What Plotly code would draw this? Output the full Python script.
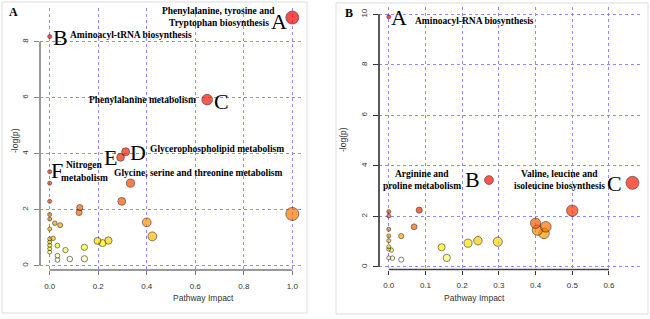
import colorsys
import numpy as np
import plotly.graph_objects as go

# ---------------- data ----------------
a_impact = [1.0, 0.0, 0.649, 0.313, 0.292, 0.0, 0.0, 0.0, 0.124, 0.121, 0.333, 0.297,
            0.0, 0.0, 0.021, 0.043, 0.0, 0.40, 0.423, 1.0, 0.014, 0.0, 0.0, 0.0, 0.0, 0.0,
            0.032, 0.065, 0.032, 0.032, 0.083, 0.143, 0.143, 0.197, 0.218, 0.242]
a_logp = [8.86, 8.18, 5.93, 4.07, 3.87, 3.36, 2.95, 2.30, 2.08, 1.90, 2.95, 2.30,
          1.83, 1.67, 1.52, 1.45, 1.31, 1.55, 1.05, 1.85, 0.98, 0.96, 0.85, 0.73, 0.61, 0.49,
          0.72, 0.56, 0.36, 0.21, 0.24, 0.66, 0.25, 0.89, 0.81, 0.90]

b_impact = [0.0, 0.273, 0.664, 0.5, 0.083, 0.0, 0.0, 0.069, 0.0, 0.034, 0.0, 0.0,
            0.40, 0.428, 0.405, 0.423, 0.243, 0.216, 0.297, 0.144, 0.158, 0.0, 0.007,
            0.0, 0.0, 0.01, 0.034]
b_logp = [9.9, 3.44, 3.33, 2.23, 2.25, 2.19, 2.02, 1.59, 1.49, 1.22, 1.23, 1.04,
          1.73, 1.59, 1.46, 1.33, 1.04, 0.94, 1.0, 0.78, 0.36, 0.80, 0.67,
          0.71, 0.36, 0.35, 0.29]

a_xticks = [0.0, 0.2, 0.4, 0.6, 0.8, 1.0]
a_yticks = [0, 2, 4, 6, 8]
b_xticks = [0.0, 0.1, 0.2, 0.3, 0.4, 0.5, 0.6]
b_yticks = [0, 2, 4, 6, 8, 10]

# labels: (text, px_x, px_y, xanchor, kind)
a_labels = [
    ("Phenylalanine, tyrosine and", 277, 11, "right", "t"),
    ("Tryptophan biosynthesis", 271, 23, "right", "t"),
    ("A", 279, 21, "center", "L"),
    ("B", 60, 37, "center", "L"),
    ("Aminoacyl-tRNA biosynthesis", 68, 35, "left", "t"),
    ("Phenylalanine metabolism", 198, 100, "right", "t"),
    ("C", 221, 101, "center", "L"),
    ("D", 138, 152, "center", "L"),
    ("Glycerophospholipid metabolism", 148, 149, "left", "t"),
    ("E", 110, 158, "center", "L"),
    ("Glycine, serine and threonine metabolism", 112, 173, "left", "t"),
    ("F", 57, 170, "center", "L"),
    ("Nitrogen", 64, 165, "left", "t"),
    ("metabolism", 59, 178, "left", "t"),
]
b_labels = [
    ("A", 399, 18, "center", "L"),
    ("Aminoacyl-RNA biosynthesis", 413, 21, "left", "t"),
    ("Arginine and", 422, 174, "center", "t"),
    ("proline metabolism", 422, 186, "center", "t"),
    ("B", 473, 179, "center", "L"),
    ("Valine, leucine and", 559, 174, "center", "t"),
    ("isoleucine biosynthesis", 559, 186, "center", "t"),
    ("C", 614, 183, "center", "L"),
]

W, H = 650, 319


def px(x):
    return x / W


def py(y):
    return 1 - y / H


def heat_colors(n):
    j = n // 4
    i = n - j
    cols = []
    for k in range(i):
        h = (1 / 6) * k / (i - 1) if i > 1 else 0
        cols.append(colorsys.hsv_to_rgb(h, 1, 1))
    if j > 0:
        for s in np.linspace(1 - 1 / (2 * j), 1 / (2 * j), j):
            cols.append(colorsys.hsv_to_rgb(1 / 6, s, 1))
    return ["rgb(%d,%d,%d)" % (round(r * 255), round(g * 255), round(b * 255)) for r, g, b in cols]


def point_style(impact, logp):
    impact = np.array(impact)
    logp = np.array(logp)
    n = len(logp)
    order = np.argsort(-logp, kind="stable")  # highest first -> red
    hc = heat_colors(n)
    colors = [None] * n
    for rank, idx in enumerate(order):
        colors[idx] = hc[rank]
    sizes = 4 + 9 * (impact / impact.max()) ** 0.7
    draw = np.argsort(logp, kind="stable")  # draw low first, red on top
    return impact[draw], logp[draw], [colors[k] for k in draw], sizes[draw]


fig = go.Figure()

for imp, lp, xa, ya in [(a_impact, a_logp, "x", "y"), (b_impact, b_logp, "x2", "y2")]:
    xs, ys, cs, ss = point_style(imp, lp)
    fig.add_trace(go.Scatter(
        x=xs, y=ys, mode="markers", xaxis=xa, yaxis=ya, cliponaxis=False,
        marker=dict(size=ss, color=cs, line=dict(color="black", width=0.7)),
        showlegend=False, hoverinfo="x+y"))

grid_col = "#8c8cf5"
tickfont = dict(family="Liberation Sans, Arial, sans-serif", size=8, color="#333333")
common_x = dict(showgrid=True, gridcolor=grid_col, griddash="dot", gridwidth=1,
                zeroline=False, showline=False, ticks="outside", ticklen=4,
                tickfont=tickfont, ticklabelstandoff=4, fixedrange=True)
common_y = dict(showgrid=True, gridcolor=grid_col, griddash="dot", gridwidth=1,
                zeroline=False, showline=False, ticks="outside", ticklen=5,
                tickfont=tickfont, tickangle=-90, ticklabelstandoff=3, fixedrange=True)

fig.update_layout(
    width=W, height=H, margin=dict(l=0, r=0, t=0, b=0),
    paper_bgcolor="white", plot_bgcolor="white",
    xaxis=dict(domain=[px(40), px(302)], range=[-0.04, 1.04], tickvals=a_xticks,
               ticktext=["%.1f" % v for v in a_xticks],
               anchor="y", tickcolor="#777777", **common_x),
    yaxis=dict(domain=[py(270), py(8)], range=[-0.15, 9.2], tickvals=a_yticks,
               ticktext=[str(v) for v in a_yticks],
               anchor="x", tickcolor="#888888", **common_y),
    xaxis2=dict(domain=[px(379), px(642)], range=[-0.0266, 0.69], tickvals=b_xticks,
                ticktext=["%.1f" % v for v in b_xticks],
                anchor="y2", tickcolor="#333333", **common_x),
    yaxis2=dict(domain=[py(269.5), py(7)], range=[-0.1, 10.29], tickvals=b_yticks,
                ticktext=[str(v) for v in b_yticks],
                anchor="x2", tickcolor="#333333", **common_y),
)

shapes = []
# panel borders
shapes.append(dict(type="rect", xref="paper", yref="paper", x0=px(2), x1=px(307),
                   y0=py(313), y1=py(2), line=dict(color="#dcdcdc", width=1)))
shapes.append(dict(type="rect", xref="paper", yref="paper", x0=px(336), x1=px(648),
                   y0=py(314), y1=py(3), line=dict(color="#dcdcdc", width=1)))
# R-style axis lines spanning first..last tick
shapes.append(dict(type="line", xref="x", yref="y domain", x0=a_xticks[0], x1=a_xticks[-1],
                   y0=0, y1=0, line=dict(color="#777777", width=1.5)))
shapes.append(dict(type="line", xref="x domain", yref="y", x0=0, x1=0, y0=a_yticks[0],
                   y1=a_yticks[-1], line=dict(color="#999999", width=2)))
shapes.append(dict(type="line", xref="x2", yref="y2 domain", x0=b_xticks[0], x1=b_xticks[-1],
                   y0=0, y1=0, line=dict(color="#444444", width=1.5)))
shapes.append(dict(type="line", xref="x2 domain", yref="y2", x0=0, x1=0, y0=b_yticks[0],
                   y1=b_yticks[-1], line=dict(color="#222222", width=1.5)))
fig.update_layout(shapes=shapes)

serif = "Liberation Serif, Times New Roman, serif"
anns = []
for text, x, y, xanchor, kind in a_labels + b_labels:
    if kind == "L":
        font = dict(family=serif, size=22, color="black")
    else:
        font = dict(family=serif, size=9.5, color="black", weight="bold")
    anns.append(dict(text=text, x=px(x), y=py(y), xref="paper", yref="paper",
                     xanchor=xanchor, yanchor="middle", showarrow=False, font=font))

# panel letters
for t, x, y in [("A", 13, 12), ("B", 349, 13)]:
    anns.append(dict(text=t, x=px(x), y=py(y), xref="paper", yref="paper", showarrow=False,
                     xanchor="center", yanchor="middle",
                     font=dict(family=serif, size=12, color="black", weight="bold")))

# axis titles
sansf = dict(family="Liberation Sans, Arial, sans-serif", size=8.5, color="#333333")
anns.append(dict(text="Pathway Impact", x=px(171), y=py(305), xref="paper", yref="paper",
                 showarrow=False, font=sansf))
anns.append(dict(text="Pathway Impact", x=px(507), y=py(305), xref="paper", yref="paper",
                 showarrow=False, font=sansf))
anns.append(dict(text="-log(p)", x=px(8), y=py(141), xref="paper", yref="paper",
                 showarrow=False, textangle=-90, font=sansf))
anns.append(dict(text="-log(p)", x=px(343), y=py(140), xref="paper", yref="paper",
                 showarrow=False, textangle=-90, font=sansf))
fig.update_layout(annotations=anns)

fig.write_html("out.html", config={"displayModeBar": False},
               post_script="document.body.style.margin='0px';document.body.style.overflow='hidden';")
